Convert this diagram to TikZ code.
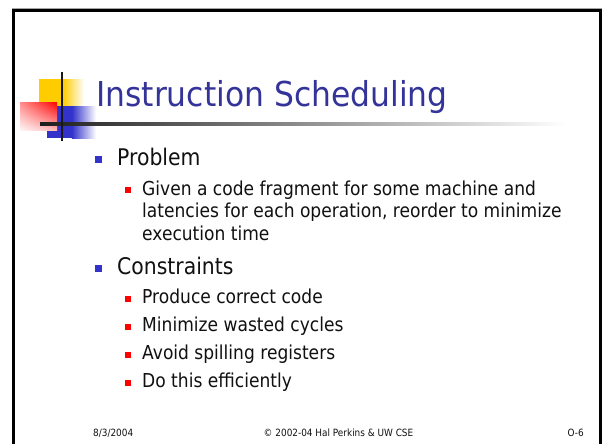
\documentclass[tikz,border=0pt]{standalone}
\usepackage{fontspec}
\setmainfont{DejaVu Sans}[FakeStretch=0.89]
\newfontfamily\titlefam{DejaVu Sans}[FakeStretch=0.915]
\usetikzlibrary{shadings}
\definecolor{titleblue}{HTML}{333399}
\definecolor{bulblue}{HTML}{3333CC}
\definecolor{bulred}{HTML}{FF0000}
\definecolor{logoyellow}{HTML}{FFCC00}
\definecolor{logoblue}{HTML}{3333CC}
\definecolor{txt}{HTML}{111111}
\tikzset{
  titletext/.style={anchor=base west, inner sep=0pt, text=titleblue, font=\titlefam\fontsize{34.3}{40}\selectfont},
  lvlone/.style={anchor=base west, inner sep=0pt, text=txt, font=\fontsize{22.9}{27}\selectfont},
  lvltwo/.style={anchor=base west, inner sep=0pt, text=txt, font=\fontsize{19.2}{23}\selectfont},
  foot/.style={anchor=base west, inner sep=0pt, text=txt, font=\fontsize{10}{12}\selectfont},
  bulone/.style={rectangle, fill=bulblue, minimum size=7pt, inner sep=0pt},
  bultwo/.style={rectangle, fill=bulred, minimum size=6pt, inner sep=0pt},
}
\begin{document}
\begin{tikzpicture}[x=1pt, y=-1pt]
\useasboundingbox (0,0) rectangle (602,444);
\fill[white] (0,0) rectangle (602,444);
% frame
\fill[black!35] (12,8) rectangle (602,9.3);
\fill[black] (12,9.3) rectangle (602,11.6);
\fill[black] (12,9.3) rectangle (15,444);
\fill[black] (599.3,9.3) rectangle (601.8,444);
% logo
\fill[logoyellow] (39,79) rectangle (63,107);
\shade[left color=logoyellow, right color=white] (62.9,79) rectangle (84,107);
\fill[logoblue] (47,106) rectangle (72,138);
\shade[left color=logoblue, right color=white] (71.9,106) rectangle (96,138);
\shade[upper left=red!45, upper right=red, lower left=red!4, lower right=red!28] (20,102) rectangle (57,130);
\shade[left color=black!88, right color=white] (40,122.8) rectangle (566,125.8);
\fill[black!90] (60.9,72) rectangle (63.4,141);
% title
\node[titletext] (title) at (96,106.7) {Instruction Scheduling};
% level 1 and 2
\node[bulone] (bp) at (98.5,159.5) {};
\node[lvlone] (problem) at (117,165) {Problem};
\node[bultwo] (bg) at (128,189.5) {};
\node[lvltwo] (g1) at (142,195) {Given a code fragment for some machine and};
\node[lvltwo] (g2) at (142,217.5) {latencies for each operation, reorder to minimize};
\node[lvltwo] (g3) at (142,240) {execution time};
\node[bulone] (bc) at (98.5,268.5) {};
\node[lvlone] (constraints) at (117,274) {Constraints};
\node[bultwo] (b1) at (128,298.5) {};
\node[lvltwo] (c1) at (142,303) {Produce correct code};
\node[bultwo] (b2) at (128,326.5) {};
\node[lvltwo] (c2) at (142,331) {Minimize wasted cycles};
\node[bultwo] (b3) at (128,354.5) {};
\node[lvltwo] (c3) at (142,359) {Avoid spilling registers};
\node[bultwo] (b4) at (128,382.5) {};
\node[lvltwo] (c4) at (142,387) {Do this efficiently};
% footer
\node[foot] (date) at (93,436) {8/3/2004};
\node[foot, anchor=base] (copy) at (338.5,436) {© 2002-04 Hal Perkins \& UW CSE};
\node[foot, anchor=base east] (page) at (584,436) {O-6};
\end{tikzpicture}
\end{document}
